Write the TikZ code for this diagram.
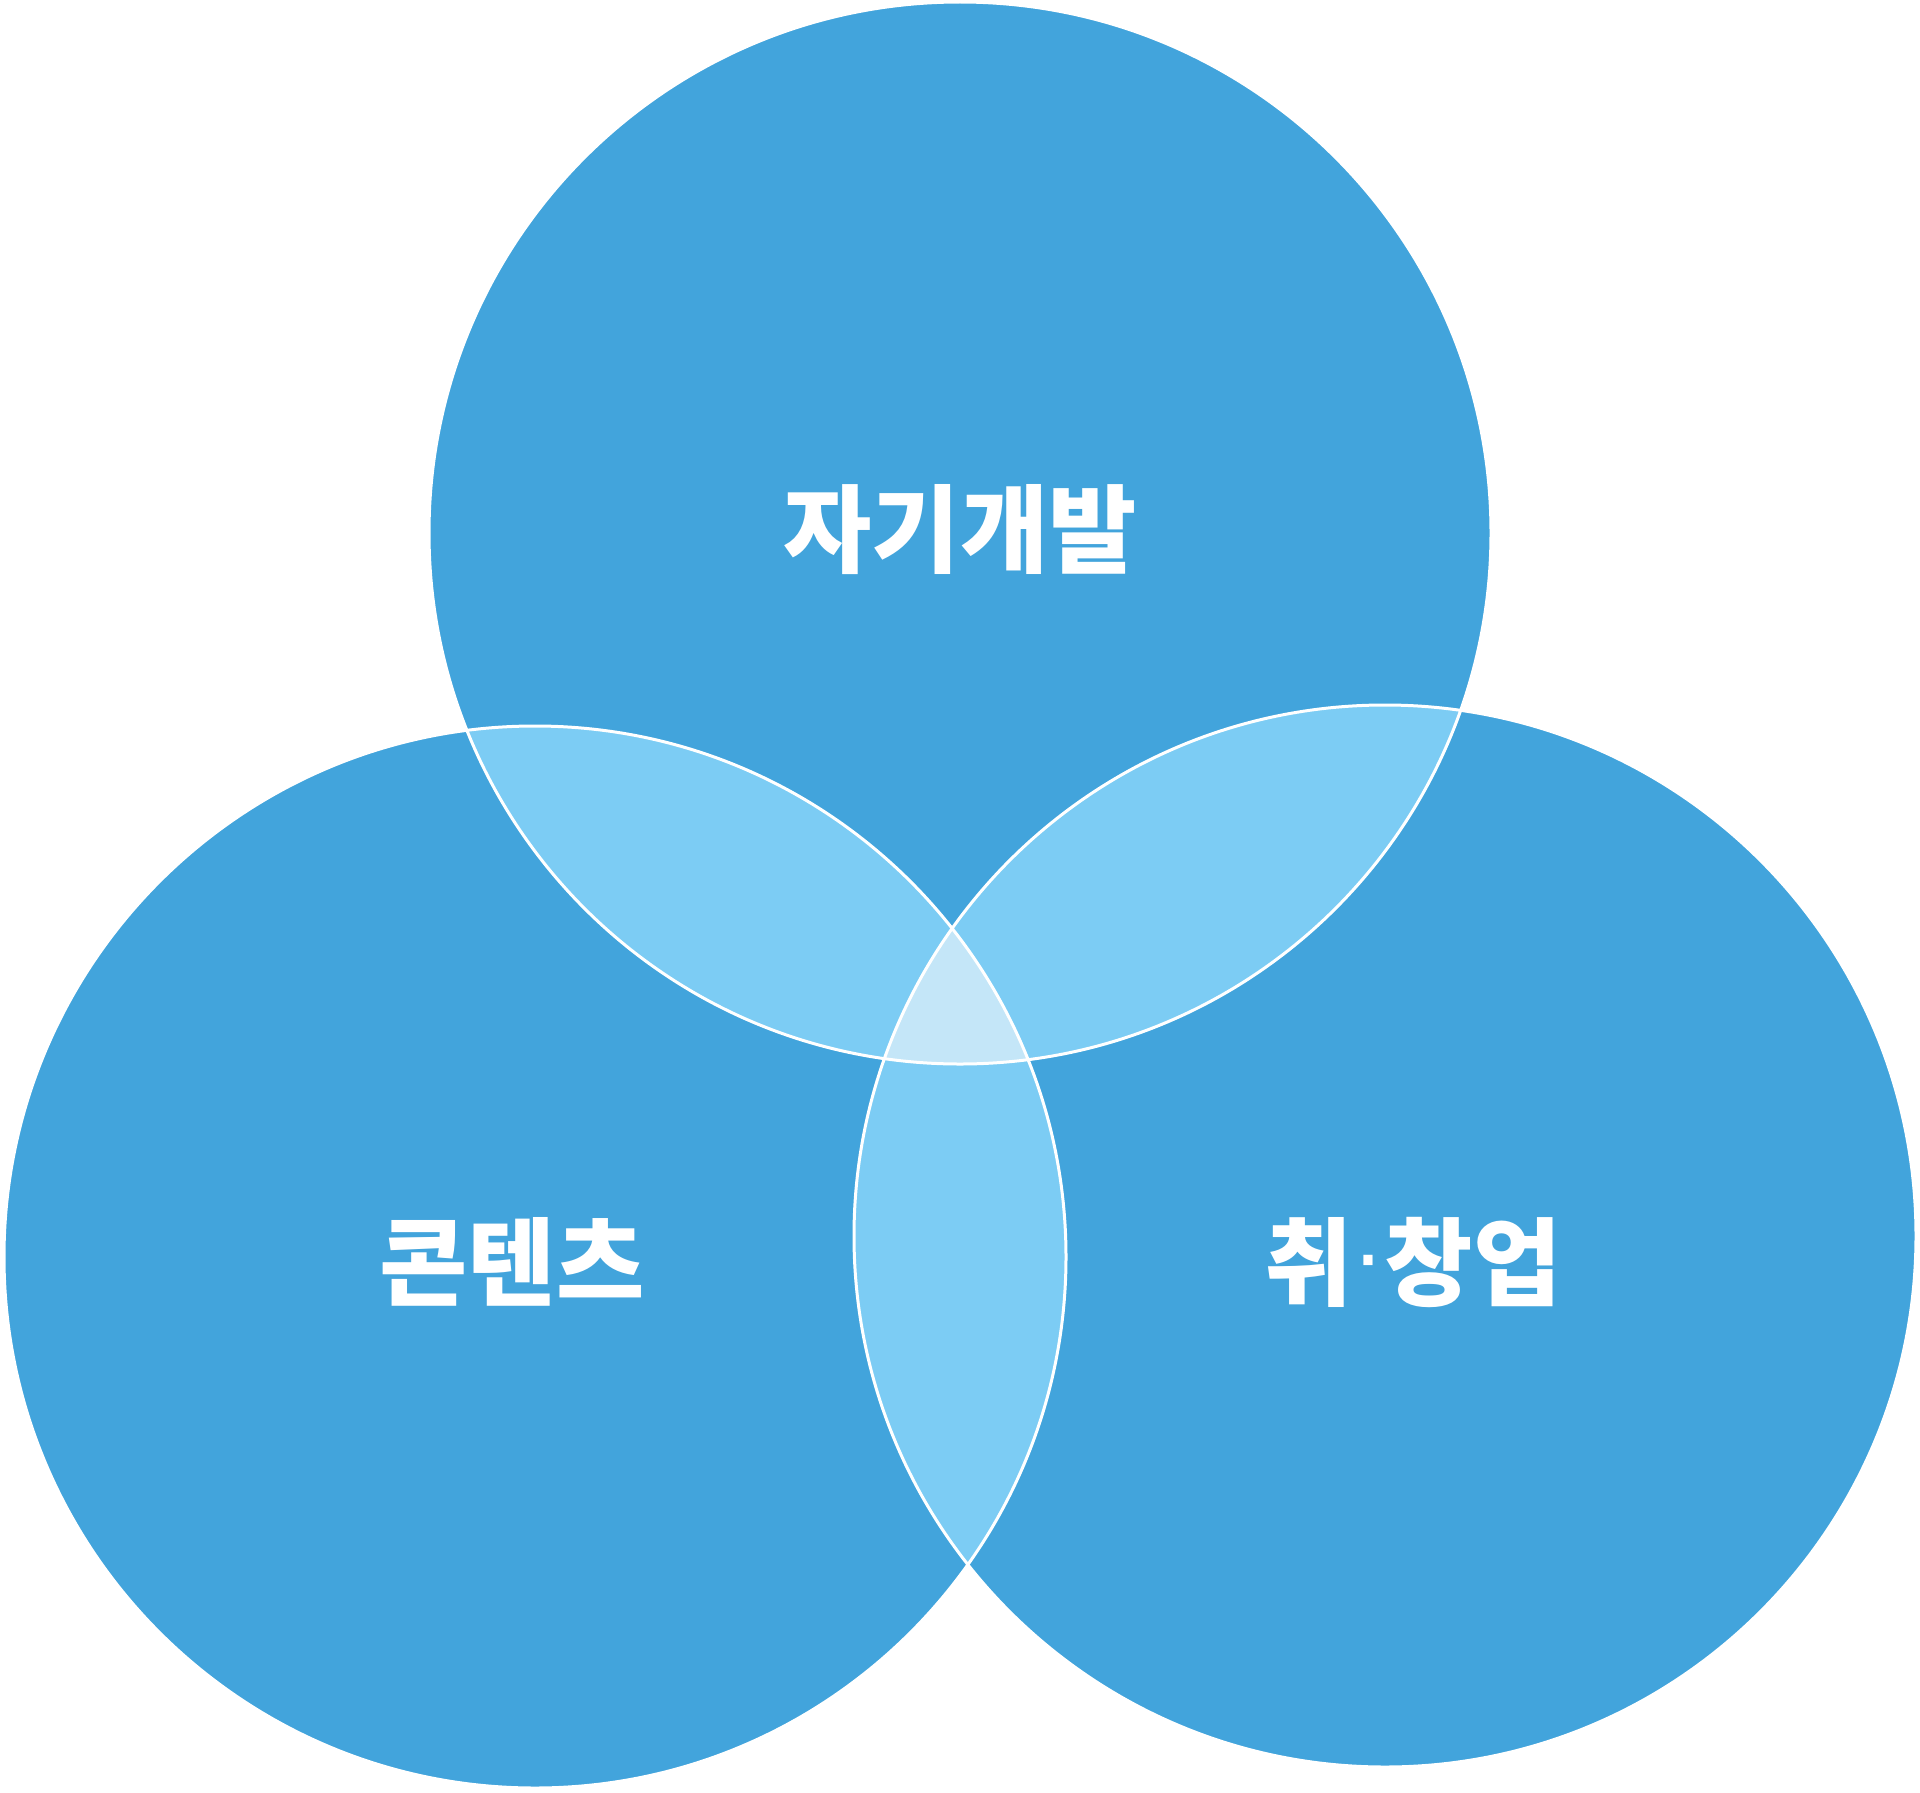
\documentclass[tikz,border=0pt]{standalone}
\usepackage{fontspec}
\newfontfamily\krfont{Noto Sans CJK KR}
\newfontfamily\dotfont{Liberation Sans}
\definecolor{vblue}{RGB}{66,164,220}
\definecolor{vmid}{RGB}{124,204,244}
\definecolor{vlight}{RGB}{196,230,248}
\tikzset{
  setlabel/.style={text=white, font=\krfont\bfseries\fontsize{96}{104}\selectfont, inner sep=0pt, anchor=center},
  rim/.style={draw=white, line width=3pt}
}
\begin{document}
\begin{tikzpicture}[x=1pt,y=-1pt]
\useasboundingbox (0,0) rectangle (1920,1793);
\coordinate (ct) at (960,533);
\coordinate (cl) at (535,1257);
\coordinate (cr) at (1385,1236);
\fill[vblue] (ct) circle[radius=531pt];
\fill[vblue] (cl) circle[radius=531pt];
\fill[vblue] (cr) circle[radius=531pt];
\begin{scope}
  \clip (ct) circle[radius=531pt];
  \fill[vmid] (cl) circle[radius=531pt];
  \fill[vmid] (cr) circle[radius=531pt];
\end{scope}
\begin{scope}
  \clip (cl) circle[radius=531pt];
  \fill[vmid] (cr) circle[radius=531pt];
\end{scope}
\begin{scope}
  \clip (ct) circle[radius=531pt];
  \clip (cl) circle[radius=531pt];
  \fill[vlight] (cr) circle[radius=531pt];
\end{scope}
\draw[rim] (ct) circle[radius=531pt];
\draw[rim] (cl) circle[radius=531pt];
\draw[rim] (cr) circle[radius=531pt];
\node[setlabel] (self) at (960,530) {자기개발};
\node[setlabel] (content) at (512,1262) {콘텐츠};
\node[setlabel] (job) at (1413,1262) {취{\dotfont\mdseries\raisebox{12pt}{·}}창업};
\end{tikzpicture}
\end{document}
